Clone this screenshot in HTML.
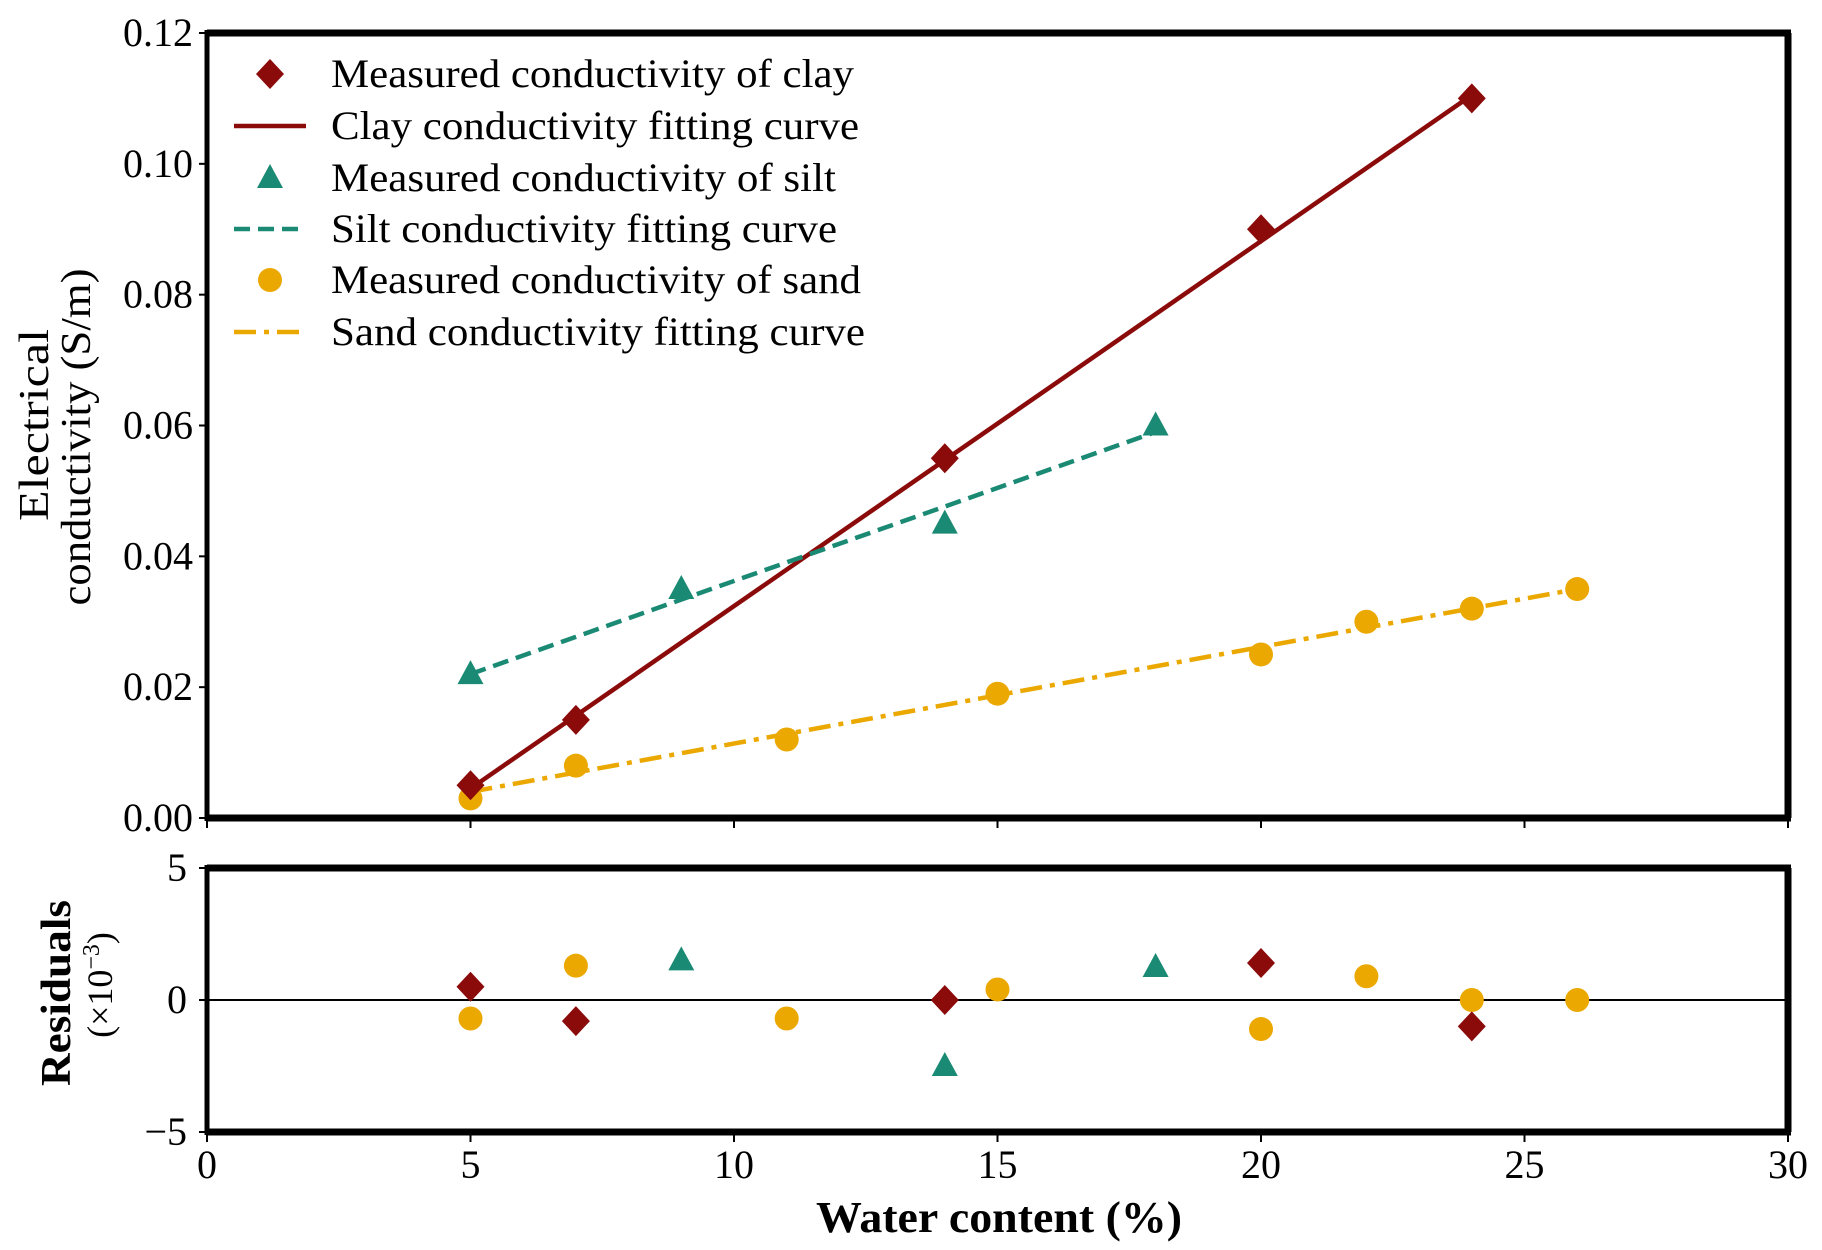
<!DOCTYPE html>
<html><head><meta charset="utf-8">
<style>
html,body{margin:0;padding:0;background:#fff;}
svg{display:block;font-family:"Liberation Serif",serif;}
</style></head>
<body>
<svg id="chart" width="1822" height="1250" viewBox="0 0 1822 1250" xmlns="http://www.w3.org/2000/svg">
<rect width="1822" height="1250" fill="#fff"/>
<g id="top"></g>
<g id="bot"></g>
<g id="legend"></g>
<text transform="translate(48,425) rotate(-90)" font-size="42" text-anchor="middle" textLength="192" lengthAdjust="spacingAndGlyphs">Electrical</text>
<text transform="translate(90,437) rotate(-90)" font-size="42" text-anchor="middle" textLength="337" lengthAdjust="spacingAndGlyphs">conductivity (S/m)</text>
<text transform="translate(70,993) rotate(-90)" font-size="42" font-weight="bold" text-anchor="middle" textLength="186" lengthAdjust="spacingAndGlyphs">Residuals</text>
<text transform="translate(112,985) rotate(-90)" font-size="36" text-anchor="middle">(×10<tspan baseline-shift="super" font-size="24">−3</tspan>)</text>
<text x="999" y="1232" font-size="44" font-weight="bold" text-anchor="middle" textLength="366" lengthAdjust="spacingAndGlyphs">Water content (%)</text>
</svg>
<script>
const xTicks=[0,5,10,15,20,25,30];
const yTicksTop=[0,0.02,0.04,0.06,0.08,0.10,0.12];
const yTickLabelsTop=["0.00","0.02","0.04","0.06","0.08","0.10","0.12"];
const yTicksBot=[-5,0,5];
const yTickLabelsBot=["−5","0","5"];
const clayX=[5,7,14,20,24];
const clayY=[0.005,0.015,0.055,0.090,0.110];
const clayFitX=[5,24];
const clayFitY=[0.0045,0.1105];
const siltX=[5,9,14,18];
const siltY=[0.022,0.035,0.045,0.060];
const siltFitX=[5,18];
const siltFitY=[0.022,0.059];
const sandX=[5,7,11,15,20,22,24,26];
const sandY=[0.003,0.008,0.012,0.019,0.025,0.030,0.032,0.035];
const sandFitX=[5,26];
const sandFitY=[0.004,0.035];
const clayResX=[5,7,14,20,24];
const clayResY=[0.5,-0.8,0,1.4,-1.0];
const siltResX=[9,14,18];
const siltResY=[1.5,-2.5,1.25];
const sandResX=[5,7,11,15,20,22,24,26];
const sandResY=[-0.7,1.3,-0.7,0.4,-1.1,0.9,0,0];

const NS="http://www.w3.org/2000/svg";
const L=207,R=1788,T1=33,B1=818,T2=868,B2=1132;
const xs=v=>L+(v-0)/(30-0)*(R-L);
const yTop=v=>B1-(v/0.12)*(B1-T1);
const yBot=v=>B2-((v+5)/10)*(B2-T2);
const C_CLAY="#8b0a0a",C_SILT="#1a8a74",C_SAND="#eba800";
function mk(tag,attrs,parent){const e=document.createElementNS(NS,tag);for(const k in attrs)e.setAttribute(k,attrs[k]);parent.appendChild(e);return e;}
function marker(type,cx,cy,color,parent,name){
  let e;
  if(type==="diamond"){e=mk("polygon",{points:`${cx},${cy-15} ${cx+14},${cy} ${cx},${cy+15} ${cx-14},${cy}`,fill:color},parent);}
  else if(type==="tri"){e=mk("polygon",{points:`${cx},${cy-14} ${cx+13},${cy+10} ${cx-13},${cy+10}`,fill:color},parent);}
  else {e=mk("circle",{cx:cx,cy:cy,r:12,fill:color},parent);}
  
  
  return e;
}
const gTop=document.getElementById('top'),gBot=document.getElementById('bot'),gLeg=document.getElementById('legend');
function fit(xa,ya,color,dash,name){
  const e=mk("line",{x1:xs(xa[0]),y1:yTop(ya[0]),x2:xs(xa[1]),y2:yTop(ya[1]),stroke:color,"stroke-width":4.5,"stroke-dasharray":dash},gTop);
  
  
}
fit(clayFitX,clayFitY,C_CLAY,"none","clay-fit-line");
fit(siltFitX,siltFitY,C_SILT,"16 8","silt-fit-line");
fit(sandFitX,sandFitY,C_SAND,"22 8 5 8","sand-fit-line");
sandX.forEach((x,i)=>marker("circle",xs(x),yTop(sandY[i]),C_SAND,gTop,"sand-point"));
siltX.forEach((x,i)=>marker("tri",xs(x),yTop(siltY[i]),C_SILT,gTop,"silt-point"));
clayX.forEach((x,i)=>marker("diamond",xs(x),yTop(clayY[i]),C_CLAY,gTop,"clay-point"));
{const z=mk("line",{x1:L,x2:R,y1:yBot(0),y2:yBot(0),stroke:"#000","stroke-width":2},gBot);

}
sandResX.forEach((x,i)=>marker("circle",xs(x),yBot(sandResY[i]),C_SAND,gBot,"sand-residual"));
siltResX.forEach((x,i)=>marker("tri",xs(x),yBot(siltResY[i]),C_SILT,gBot,"silt-residual"));
clayResX.forEach((x,i)=>marker("diamond",xs(x),yBot(clayResY[i]),C_CLAY,gBot,"clay-residual"));
function frame(t,b,parent,name){
  const g=mk("g",{},parent);
  
  
  mk("line",{x1:L,x2:R+3,y1:t,y2:t,stroke:"#000","stroke-width":7},g);
  mk("line",{x1:L,x2:R+3,y1:b,y2:b,stroke:"#000","stroke-width":7},g);
  mk("line",{x1:R,x2:R,y1:t,y2:b,stroke:"#000","stroke-width":7},g);
  mk("line",{x1:L,x2:L,y1:t-3,y2:b+3,stroke:"#000","stroke-width":5},g);
}
frame(T1,B1,gTop,"top-frame");
frame(T2,B2,gBot,"bottom-frame");
yTicksTop.forEach((v,i)=>{
  mk("line",{x1:L-8,x2:L,y1:yTop(v),y2:yTop(v),stroke:"#000","stroke-width":2},gTop);
  const t=mk("text",{x:L-14,y:yTop(v)+13,"font-size":40,"text-anchor":"end"},gTop);
  t.textContent=yTickLabelsTop[i];
  
  
});
yTicksBot.forEach((v,i)=>{
  mk("line",{x1:L-8,x2:L,y1:yBot(v),y2:yBot(v),stroke:"#000","stroke-width":2},gBot);
  const t=mk("text",{x:L-20,y:yBot(v)+13,"font-size":40,"text-anchor":"end"},gBot);
  t.textContent=yTickLabelsBot[i];
  
  
});
xTicks.forEach(v=>{
  mk("line",{x1:xs(v),x2:xs(v),y1:B1,y2:B1+10,stroke:"#000","stroke-width":2},gTop);
  mk("line",{x1:xs(v),x2:xs(v),y1:B2,y2:B2+10,stroke:"#000","stroke-width":2},gBot);
  const t=mk("text",{x:xs(v),y:1178,"font-size":40,"text-anchor":"middle"},gBot);
  t.textContent=String(v);
  
  
});
const legLabels=["Measured conductivity of clay","Clay conductivity fitting curve","Measured conductivity of silt","Silt conductivity fitting curve","Measured conductivity of sand","Sand conductivity fitting curve"];
const legWidths=[523,528,505,506,530,534];
const legRows=[74,126,178,229,280,332];
legLabels.forEach((lab,i)=>{
  const g=mk("g",{},gLeg);
  
  
  const y=legRows[i];
  if(i===0)marker("diamond",270,y,C_CLAY,g,"legend-clay-marker");
  if(i===2)marker("tri",270,y,C_SILT,g,"legend-silt-marker");
  if(i===4)marker("circle",270,y,C_SAND,g,"legend-sand-marker");
  if(i===1)mk("line",{x1:234,x2:306,y1:y,y2:y,stroke:C_CLAY,"stroke-width":4.5},g);
  if(i===3)mk("line",{x1:234,x2:306,y1:y,y2:y,stroke:C_SILT,"stroke-width":4.5,"stroke-dasharray":"16 8"},g);
  if(i===5)mk("line",{x1:234,x2:306,y1:y,y2:y,stroke:C_SAND,"stroke-width":4.5,"stroke-dasharray":"22 8 5 8"},g);
  const t=mk("text",{x:331,y:y+13,"font-size":40,textLength:legWidths[i],lengthAdjust:"spacingAndGlyphs"},g);
  t.textContent=lab;
});
</script>
</body></html>
